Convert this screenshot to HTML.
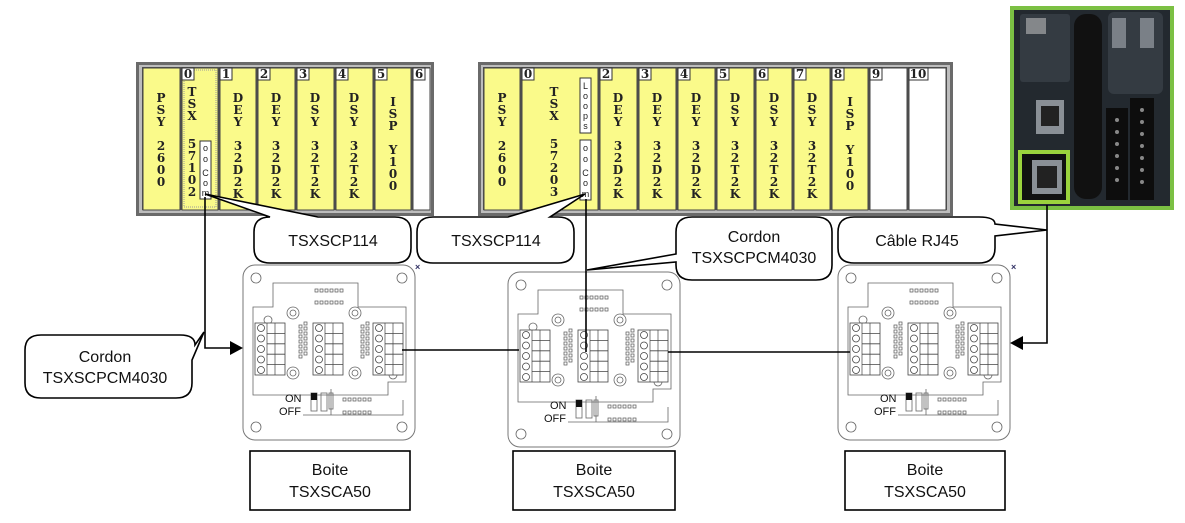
<!DOCTYPE html>
<html><head><meta charset="utf-8"><style>
html,body{margin:0;padding:0;background:#fff;}
svg{display:block;}
.s{font-family:"DejaVu Serif","Liberation Serif",serif;font-weight:bold;font-size:12px;fill:#222;}
.l{font-family:"Liberation Sans",sans-serif;font-size:16px;fill:#111;}
.n{font-family:"Liberation Sans",sans-serif;font-size:9px;fill:#222;}
</style></head><body>
<svg width="1185" height="523" viewBox="0 0 1185 523" xmlns="http://www.w3.org/2000/svg">
<defs>
<g id="term">
  <rect x="0" y="0" width="30" height="52" fill="#fff" stroke="#444" stroke-width="0.8"/>
  <line x1="12" y1="0" x2="12" y2="52" stroke="#444" stroke-width="0.7"/>
  <line x1="20" y1="0" x2="20" y2="52" stroke="#444" stroke-width="0.7"/>
  <g fill="none" stroke="#444" stroke-width="0.8">
    <circle cx="6" cy="5" r="3.5"/><circle cx="6" cy="15.5" r="3.5"/><circle cx="6" cy="26" r="3.5"/><circle cx="6" cy="36.5" r="3.5"/><circle cx="6" cy="47" r="3.5"/>
    <line x1="12" y1="10.4" x2="30" y2="10.4"/><line x1="12" y1="20.8" x2="30" y2="20.8"/><line x1="12" y1="31.2" x2="30" y2="31.2"/><line x1="12" y1="41.6" x2="30" y2="41.6"/>
  </g>
</g>
<g id="dots">
  <g fill="none" stroke="#555" stroke-width="0.7">
    <rect x="0" y="0" width="3" height="3"/><rect x="5" y="0" width="3" height="3"/><rect x="10" y="0" width="3" height="3"/><rect x="15" y="0" width="3" height="3"/><rect x="20" y="0" width="3" height="3"/><rect x="25" y="0" width="3" height="3"/>
  </g>
</g>
<g id="col">
  <g fill="none" stroke="#555" stroke-width="0.7">
    <rect x="0" y="0" width="3" height="3"/><rect x="0" y="5" width="3" height="3"/><rect x="0" y="10" width="3" height="3"/><rect x="0" y="15" width="3" height="3"/><rect x="0" y="20" width="3" height="3"/><rect x="0" y="25" width="3" height="3"/><rect x="0" y="30" width="3" height="3"/>
  </g>
</g>
<g id="box">
  <rect x="0" y="0" width="172" height="175" rx="12" fill="#fff" stroke="#777" stroke-width="1"/>
  <g fill="none" stroke="#666" stroke-width="0.8">
    <circle cx="13" cy="13" r="5"/><circle cx="159" cy="13" r="5"/><circle cx="13" cy="162" r="5"/><circle cx="159" cy="162" r="5"/>
    <path d="M30,18 H115 V42 H163 V117 H145 V130 H10 V42 H30 Z"/>
    <circle cx="50" cy="48" r="6"/><circle cx="112" cy="48" r="6"/><circle cx="50" cy="108" r="6"/><circle cx="112" cy="108" r="6"/>
    <circle cx="50" cy="48" r="3"/><circle cx="112" cy="48" r="3"/><circle cx="50" cy="108" r="3"/><circle cx="112" cy="108" r="3"/>
    <circle cx="25" cy="55" r="4"/><circle cx="150" cy="110" r="4"/>
    <rect x="68" y="128" width="6" height="18"/><rect x="78" y="128" width="6" height="18"/>
    <rect x="86" y="128" width="4" height="16"/><line x1="88" y1="124" x2="88" y2="150"/>
    <path d="M60,150 H160 V135"/>
  </g>
  <rect x="68" y="128" width="6" height="7" fill="#111"/>
  <use href="#dots" x="72" y="24"/><use href="#dots" x="72" y="36"/>
  <use href="#dots" x="100" y="133"/><use href="#dots" x="100" y="146"/>
  <use href="#col" x="56" y="60"/><use href="#col" x="61" y="57"/>
  <use href="#col" x="118" y="60"/><use href="#col" x="123" y="57"/>
  <use href="#term" x="12" y="58"/><use href="#term" x="70" y="58"/><use href="#term" x="130" y="58"/>
</g>
</defs>

<!-- Rack 1 -->
<rect x="136" y="62" width="298" height="154" fill="#6a6a6a"/>
<rect x="139" y="65" width="292" height="148" fill="#bdbdbd"/>
<rect x="142" y="67" width="288" height="143" fill="#555"/>
<g stroke="#444" stroke-width="1">
<rect x="143" y="68" width="37" height="142" fill="#fafa8a"/>
<rect x="182" y="68" width="36" height="142" fill="#fafa8a"/>
<rect x="220" y="68" width="36" height="142" fill="#fafa8a"/>
<rect x="258" y="68" width="37" height="142" fill="#fafa8a"/>
<rect x="297" y="68" width="37" height="142" fill="#fafa8a"/>
<rect x="336" y="68" width="37" height="142" fill="#fafa8a"/>
<rect x="375" y="68" width="36" height="142" fill="#fafa8a"/>
<rect x="413" y="68" width="17" height="142" fill="#fff"/>
</g>
<rect x="184" y="70" width="32" height="137" fill="none" stroke="#999" stroke-dasharray="1,1"/>
<g fill="#fff" stroke="#333">
<rect x="182" y="68" width="12" height="12"/><rect x="220" y="68" width="12" height="12"/><rect x="258" y="68" width="12" height="12"/><rect x="297" y="68" width="12" height="12"/><rect x="336" y="68" width="12" height="12"/><rect x="375" y="68" width="12" height="12"/><rect x="413" y="68" width="12" height="12"/>
</g>
<g class="s" text-anchor="middle">
<text x="188" y="78">0</text><text x="226" y="78">1</text><text x="264" y="78">2</text><text x="303" y="78">3</text><text x="342" y="78">4</text><text x="381" y="78">5</text><text x="419" y="78">6</text>
</g>
<g class="s" text-anchor="middle">
<text x="161" y="102">P</text><text x="161" y="114">S</text><text x="161" y="126">Y</text><text x="161" y="150">2</text><text x="161" y="162">6</text><text x="161" y="174">0</text><text x="161" y="186">0</text>
<text x="192" y="96">T</text><text x="192" y="108">S</text><text x="192" y="120">X</text><text x="192" y="148">5</text><text x="192" y="160">7</text><text x="192" y="172">1</text><text x="192" y="184">0</text><text x="192" y="196">2</text>
</g>
<g class="s" text-anchor="middle">
<text x="238" y="102">D</text><text x="238" y="114">E</text><text x="238" y="126">Y</text><text x="238" y="150">3</text><text x="238" y="162">2</text><text x="238" y="174">D</text><text x="238" y="186">2</text><text x="238" y="198">K</text>
<text x="276" y="102">D</text><text x="276" y="114">E</text><text x="276" y="126">Y</text><text x="276" y="150">3</text><text x="276" y="162">2</text><text x="276" y="174">D</text><text x="276" y="186">2</text><text x="276" y="198">K</text>
<text x="315" y="102">D</text><text x="315" y="114">S</text><text x="315" y="126">Y</text><text x="315" y="150">3</text><text x="315" y="162">2</text><text x="315" y="174">T</text><text x="315" y="186">2</text><text x="315" y="198">K</text>
<text x="354" y="102">D</text><text x="354" y="114">S</text><text x="354" y="126">Y</text><text x="354" y="150">3</text><text x="354" y="162">2</text><text x="354" y="174">T</text><text x="354" y="186">2</text><text x="354" y="198">K</text>
<text x="393" y="106">I</text><text x="393" y="118">S</text><text x="393" y="130">P</text><text x="393" y="154">Y</text><text x="393" y="166">1</text><text x="393" y="178">0</text><text x="393" y="190">0</text>
</g>
<rect x="200" y="141" width="11" height="58" fill="#fff" stroke="#333"/>
<g class="n" text-anchor="middle"><text x="205.5" y="151">o</text><text x="205.5" y="162">o</text><text x="205.5" y="176">C</text><text x="205.5" y="186">o</text><text x="205.5" y="196">m</text></g>

<!-- Rack 2 -->
<rect x="478" y="62" width="475" height="154" fill="#6a6a6a"/>
<rect x="481" y="65" width="469" height="148" fill="#bdbdbd"/>
<rect x="483" y="67" width="464" height="143" fill="#555"/>
<g stroke="#444" stroke-width="1">
<rect x="484" y="68" width="36" height="142" fill="#fafa8a"/>
<rect x="522" y="68" width="76" height="142" fill="#fafa8a"/>
<rect x="600" y="68" width="37" height="142" fill="#fafa8a"/>
<rect x="639" y="68" width="37" height="142" fill="#fafa8a"/>
<rect x="678" y="68" width="37" height="142" fill="#fafa8a"/>
<rect x="717" y="68" width="37" height="142" fill="#fafa8a"/>
<rect x="756" y="68" width="36" height="142" fill="#fafa8a"/>
<rect x="794" y="68" width="36" height="142" fill="#fafa8a"/>
<rect x="832" y="68" width="36" height="142" fill="#fafa8a"/>
<rect x="870" y="68" width="37" height="142" fill="#fff"/>
<rect x="909" y="68" width="37" height="142" fill="#fff"/>
</g>
<g fill="#fff" stroke="#333">
<rect x="522" y="68" width="12" height="12"/><rect x="600" y="68" width="12" height="12"/><rect x="639" y="68" width="12" height="12"/><rect x="678" y="68" width="12" height="12"/><rect x="717" y="68" width="12" height="12"/><rect x="756" y="68" width="12" height="12"/><rect x="794" y="68" width="12" height="12"/><rect x="832" y="68" width="12" height="12"/><rect x="870" y="68" width="12" height="12"/><rect x="909" y="68" width="19" height="12"/>
</g>
<g class="s" text-anchor="middle">
<text x="528" y="78">0</text><text x="606" y="78">2</text><text x="645" y="78">3</text><text x="684" y="78">4</text><text x="723" y="78">5</text><text x="762" y="78">6</text><text x="800" y="78">7</text><text x="838" y="78">8</text><text x="876" y="78">9</text><text x="918" y="78">10</text>
</g>
<g class="s" text-anchor="middle">
<text x="502" y="102">P</text><text x="502" y="114">S</text><text x="502" y="126">Y</text><text x="502" y="150">2</text><text x="502" y="162">6</text><text x="502" y="174">0</text><text x="502" y="186">0</text>
<text x="554" y="96">T</text><text x="554" y="108">S</text><text x="554" y="120">X</text><text x="554" y="148">5</text><text x="554" y="160">7</text><text x="554" y="172">2</text><text x="554" y="184">0</text><text x="554" y="196">3</text>
<text x="618" y="102">D</text><text x="618" y="114">E</text><text x="618" y="126">Y</text><text x="618" y="150">3</text><text x="618" y="162">2</text><text x="618" y="174">D</text><text x="618" y="186">2</text><text x="618" y="198">K</text>
<text x="657" y="102">D</text><text x="657" y="114">E</text><text x="657" y="126">Y</text><text x="657" y="150">3</text><text x="657" y="162">2</text><text x="657" y="174">D</text><text x="657" y="186">2</text><text x="657" y="198">K</text>
<text x="696" y="102">D</text><text x="696" y="114">E</text><text x="696" y="126">Y</text><text x="696" y="150">3</text><text x="696" y="162">2</text><text x="696" y="174">D</text><text x="696" y="186">2</text><text x="696" y="198">K</text>
<text x="735" y="102">D</text><text x="735" y="114">S</text><text x="735" y="126">Y</text><text x="735" y="150">3</text><text x="735" y="162">2</text><text x="735" y="174">T</text><text x="735" y="186">2</text><text x="735" y="198">K</text>
<text x="774" y="102">D</text><text x="774" y="114">S</text><text x="774" y="126">Y</text><text x="774" y="150">3</text><text x="774" y="162">2</text><text x="774" y="174">T</text><text x="774" y="186">2</text><text x="774" y="198">K</text>
<text x="812" y="102">D</text><text x="812" y="114">S</text><text x="812" y="126">Y</text><text x="812" y="150">3</text><text x="812" y="162">2</text><text x="812" y="174">T</text><text x="812" y="186">2</text><text x="812" y="198">K</text>
<text x="850" y="106">I</text><text x="850" y="118">S</text><text x="850" y="130">P</text><text x="850" y="154">Y</text><text x="850" y="166">1</text><text x="850" y="178">0</text><text x="850" y="190">0</text>
</g>
<rect x="580" y="78" width="11" height="55" fill="#fff" stroke="#333"/>
<g class="n" text-anchor="middle"><text x="585.5" y="89">L</text><text x="585.5" y="99">o</text><text x="585.5" y="109">o</text><text x="585.5" y="119">p</text><text x="585.5" y="129">s</text></g>
<rect x="580" y="140" width="11" height="60" fill="#fff" stroke="#333"/>
<g class="n" text-anchor="middle"><text x="585.5" y="151">o</text><text x="585.5" y="162">o</text><text x="585.5" y="176">C</text><text x="585.5" y="186">o</text><text x="585.5" y="197">m</text></g>

<!-- PLC -->
<rect x="1012" y="8" width="160" height="200" fill="#23292f" stroke="#7bc043" stroke-width="4"/>
<rect x="1020" y="14" width="50" height="68" rx="3" fill="#343b42"/>
<rect x="1026" y="18" width="20" height="16" fill="#bbb" opacity="0.6"/>
<rect x="1074" y="14" width="28" height="185" rx="12" fill="#111"/>
<rect x="1108" y="12" width="55" height="82" rx="6" fill="#343b42"/>
<g fill="#7a8087"><rect x="1112" y="18" width="14" height="30"/><rect x="1140" y="18" width="14" height="30"/></g>
<rect x="1036" y="100" width="28" height="34" fill="#8a9096"/><rect x="1041" y="106" width="18" height="20" fill="#222"/>
<rect x="1020" y="152" width="48" height="50" fill="#111" stroke="#9bd33d" stroke-width="4"/>
<rect x="1032" y="160" width="30" height="34" fill="#8a9096"/><rect x="1037" y="166" width="20" height="22" fill="#222"/>
<rect x="1106" y="108" width="22" height="92" fill="#0d0d0d"/><rect x="1130" y="98" width="24" height="102" fill="#0d0d0d"/>
<g fill="#888"><circle cx="1117" cy="120" r="2"/><circle cx="1117" cy="132" r="2"/><circle cx="1117" cy="144" r="2"/><circle cx="1117" cy="156" r="2"/><circle cx="1117" cy="168" r="2"/><circle cx="1117" cy="180" r="2"/><circle cx="1142" cy="110" r="2"/><circle cx="1142" cy="122" r="2"/><circle cx="1142" cy="134" r="2"/><circle cx="1142" cy="146" r="2"/><circle cx="1142" cy="158" r="2"/><circle cx="1142" cy="170" r="2"/><circle cx="1142" cy="182" r="2"/></g>

<!-- Boxes -->
<use href="#box" x="243" y="265"/>
<use href="#box" x="508" y="272"/>
<use href="#box" x="838" y="265"/>
<g font-family="Liberation Sans,sans-serif" font-size="11" fill="#111">
<text x="285" y="402">ON</text><text x="279" y="415">OFF</text>
<text x="550" y="409">ON</text><text x="544" y="422">OFF</text>
<text x="880" y="402">ON</text><text x="874" y="415">OFF</text>
</g>
<g fill="#336" font-family="Liberation Sans,sans-serif" font-size="9" font-weight="bold"><text x="415" y="270">×</text><text x="1011" y="270">×</text></g>

<!-- Connectors -->
<g stroke="#000" stroke-width="1.6" fill="none">
<path d="M205,197 V348 H233"/>
<path d="M586,199 V352"/>
<path d="M1047,205 V343 H1020"/>
<line x1="402" y1="350" x2="519" y2="350"/>
<line x1="668" y1="352" x2="850" y2="352"/>
</g>
<polygon points="243,348 230,341 230,355" fill="#000"/>
<polygon points="1010,343 1023,336 1023,350" fill="#000"/>

<!-- Callouts -->
<g fill="#fff" stroke="#000" stroke-width="1.6">
<path d="M270,217 L205,194 L318,217 H395 Q411,217 411,232 V248 Q411,263 395,263 H270 Q254,263 254,248 V232 Q254,217 270,217 Z"/>
<path d="M433,217 H508 L585,194 L550,217 H558 Q574,217 574,232 V248 Q574,263 558,263 H433 Q417,263 417,248 V232 Q417,217 433,217 Z"/>
<path d="M692,217 H816 Q832,217 832,232 V265 Q832,280 816,280 H692 Q676,280 676,265 V262 L587,270 L676,254 V232 Q676,217 692,217 Z"/>
<path d="M854,217 H979 Q995,217 995,224 L1047,230 L995,236 V248 Q995,263 979,263 H854 Q838,263 838,248 V232 Q838,217 854,217 Z"/>
<path d="M41,335 H180 Q195,335 195,345 L204,332 L192,360 V383 Q192,398 176,398 H41 Q25,398 25,383 V350 Q25,335 41,335 Z"/>
</g>
<g class="l" text-anchor="middle">
<text x="333" y="246">TSXSCP114</text>
<text x="496" y="246">TSXSCP114</text>
<text x="754" y="242">Cordon</text><text x="754" y="263">TSXSCPCM4030</text>
<text x="917" y="246">Câble RJ45</text>
<text x="105" y="362">Cordon</text><text x="105" y="383">TSXSCPCM4030</text>
</g>

<!-- Boite labels -->
<g fill="#fff" stroke="#000" stroke-width="1.6">
<rect x="250" y="451" width="160" height="59"/>
<rect x="513" y="451" width="162" height="59"/>
<rect x="845" y="451" width="160" height="59"/>
</g>
<g class="l" text-anchor="middle">
<text x="330" y="475">Boite</text><text x="330" y="497">TSXSCA50</text>
<text x="594" y="475">Boite</text><text x="594" y="497">TSXSCA50</text>
<text x="925" y="475">Boite</text><text x="925" y="497">TSXSCA50</text>
</g>
</svg>
</body></html>
